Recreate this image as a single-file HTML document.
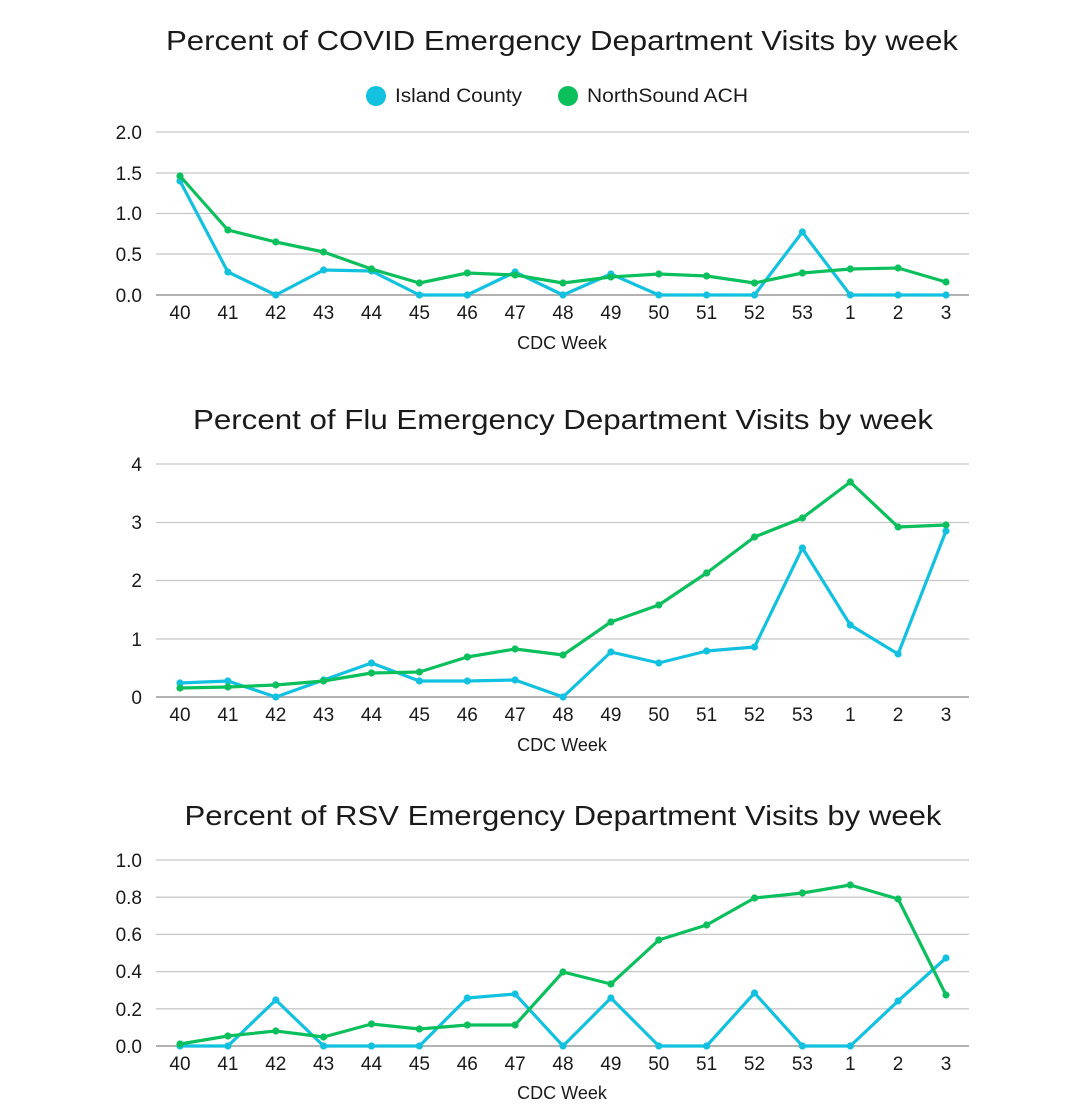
<!DOCTYPE html>
<html><head><meta charset="utf-8"><style>
html,body{margin:0;padding:0;background:#fff}
svg{display:block;font-family:"Liberation Sans",sans-serif}
.t{font-size:28px;fill:#1a1a1a;text-anchor:middle}
.tk{font-size:19px;fill:#1a1a1a}
.yl{text-anchor:end}
.xl{text-anchor:middle}
.al{font-size:18px;fill:#1a1a1a;text-anchor:middle}
.g{stroke:#c8c8c8;stroke-width:1.3}
.ax{stroke:#999;stroke-width:1.5}
.c{fill:none;stroke:#12C1DF;stroke-width:3.2;stroke-linejoin:round;marker-start:url(#mc);marker-mid:url(#mc);marker-end:url(#mc)}
.n{fill:none;stroke:#0BBF5D;stroke-width:3.2;stroke-linejoin:round;marker-start:url(#mn);marker-mid:url(#mn);marker-end:url(#mn)}
</style></head><body>
<svg width="1080" height="1114" viewBox="0 0 1080 1114">
<defs>
<marker id="mc" markerUnits="userSpaceOnUse" markerWidth="10" markerHeight="10" refX="5" refY="5"><circle cx="5" cy="5" r="3.6" fill="#12C1DF"/></marker>
<marker id="mn" markerUnits="userSpaceOnUse" markerWidth="10" markerHeight="10" refX="5" refY="5"><circle cx="5" cy="5" r="3.6" fill="#0BBF5D"/></marker>
</defs>

<!-- Chart 1 -->
<text class="t" x="562" y="50" textLength="792" lengthAdjust="spacingAndGlyphs">Percent of COVID Emergency Department Visits by week</text>
<circle cx="376" cy="96" r="10" fill="#12C1DF"/><text class="tk" x="395" y="102" textLength="127" lengthAdjust="spacingAndGlyphs">Island County</text>
<circle cx="568" cy="96" r="10" fill="#0BBF5D"/><text class="tk" x="587" y="102" textLength="161" lengthAdjust="spacingAndGlyphs">NorthSound ACH</text>
<g>
<line class="g" x1="156" x2="969" y1="132" y2="132"/><line class="g" x1="156" x2="969" y1="173" y2="173"/><line class="g" x1="156" x2="969" y1="213.5" y2="213.5"/><line class="g" x1="156" x2="969" y1="254" y2="254"/><line class="ax" x1="156" x2="969" y1="295" y2="295"/>
<text class="tk yl" x="142" y="139">2.0</text><text class="tk yl" x="142" y="180">1.5</text><text class="tk yl" x="142" y="220">1.0</text><text class="tk yl" x="142" y="261">0.5</text><text class="tk yl" x="142" y="302">0.0</text>
</g>
<g class="tk xl" transform="translate(0,319)">
<text x="180">40</text><text x="227.9">41</text><text x="275.8">42</text><text x="323.6">43</text><text x="371.5">44</text><text x="419.4">45</text><text x="467.3">46</text><text x="515.1">47</text><text x="563">48</text><text x="610.9">49</text><text x="658.8">50</text><text x="706.6">51</text><text x="754.5">52</text><text x="802.4">53</text><text x="850.3">1</text><text x="898.1">2</text><text x="946">3</text>
</g>
<text class="al" x="562" y="349">CDC Week</text>
<polyline class="c" points="180,181 227.9,272 275.8,295 323.6,270 371.5,271 419.4,295 467.3,295 515.1,272 563,295 610.9,274 658.8,295 706.6,295 754.5,295 802.4,232 850.3,295 898.1,295 946,295"/>
<polyline class="n" points="180,176 227.9,230 275.8,242 323.6,252 371.5,269 419.4,283 467.3,273 515.1,275 563,283 610.9,277 658.8,274 706.6,276 754.5,283 802.4,273 850.3,269 898.1,268 946,282"/>

<!-- Chart 2 -->
<text class="t" x="563" y="429" textLength="740" lengthAdjust="spacingAndGlyphs">Percent of Flu Emergency Department Visits by week</text>
<g>
<line class="g" x1="156" x2="969" y1="464" y2="464"/><line class="g" x1="156" x2="969" y1="522.5" y2="522.5"/><line class="g" x1="156" x2="969" y1="580.5" y2="580.5"/><line class="g" x1="156" x2="969" y1="639" y2="639"/><line class="ax" x1="156" x2="969" y1="697" y2="697"/>
<text class="tk yl" x="142" y="471">4</text><text class="tk yl" x="142" y="529">3</text><text class="tk yl" x="142" y="587">2</text><text class="tk yl" x="142" y="646">1</text><text class="tk yl" x="142" y="704">0</text>
</g>
<g class="tk xl" transform="translate(0,721)">
<text x="180">40</text><text x="227.9">41</text><text x="275.8">42</text><text x="323.6">43</text><text x="371.5">44</text><text x="419.4">45</text><text x="467.3">46</text><text x="515.1">47</text><text x="563">48</text><text x="610.9">49</text><text x="658.8">50</text><text x="706.6">51</text><text x="754.5">52</text><text x="802.4">53</text><text x="850.3">1</text><text x="898.1">2</text><text x="946">3</text>
</g>
<text class="al" x="562" y="751">CDC Week</text>
<polyline class="c" points="180,683 227.9,681 275.8,697 323.6,680 371.5,663 419.4,681 467.3,681 515.1,680 563,697 610.9,652 658.8,663 706.6,651 754.5,647 802.4,548 850.3,625 898.1,654 946,531"/>
<polyline class="n" points="180,688 227.9,687 275.8,685 323.6,681 371.5,673 419.4,672 467.3,657 515.1,649 563,655 610.9,622 658.8,605 706.6,573 754.5,537 802.4,518 850.3,482 898.1,527 946,525"/>

<!-- Chart 3 -->
<text class="t" x="563" y="825" textLength="757" lengthAdjust="spacingAndGlyphs">Percent of RSV Emergency Department Visits by week</text>
<g>
<line class="g" x1="156" x2="969" y1="860" y2="860"/><line class="g" x1="156" x2="969" y1="897.2" y2="897.2"/><line class="g" x1="156" x2="969" y1="934.4" y2="934.4"/><line class="g" x1="156" x2="969" y1="971.6" y2="971.6"/><line class="g" x1="156" x2="969" y1="1008.8" y2="1008.8"/><line class="ax" x1="156" x2="969" y1="1046" y2="1046"/>
<text class="tk yl" x="142" y="867">1.0</text><text class="tk yl" x="142" y="904">0.8</text><text class="tk yl" x="142" y="941">0.6</text><text class="tk yl" x="142" y="978">0.4</text><text class="tk yl" x="142" y="1016">0.2</text><text class="tk yl" x="142" y="1053">0.0</text>
</g>
<g class="tk xl" transform="translate(0,1070)">
<text x="180">40</text><text x="227.9">41</text><text x="275.8">42</text><text x="323.6">43</text><text x="371.5">44</text><text x="419.4">45</text><text x="467.3">46</text><text x="515.1">47</text><text x="563">48</text><text x="610.9">49</text><text x="658.8">50</text><text x="706.6">51</text><text x="754.5">52</text><text x="802.4">53</text><text x="850.3">1</text><text x="898.1">2</text><text x="946">3</text>
</g>
<text class="al" x="562" y="1099">CDC Week</text>
<polyline class="c" points="180,1046 227.9,1046 275.8,1000 323.6,1046 371.5,1046 419.4,1046 467.3,998 515.1,994 563,1046 610.9,998 658.8,1046 706.6,1046 754.5,993 802.4,1046 850.3,1046 898.1,1001 946,958"/>
<polyline class="n" points="180,1044 227.9,1036 275.8,1031 323.6,1037 371.5,1024 419.4,1029 467.3,1025 515.1,1025 563,972 610.9,984 658.8,940 706.6,925 754.5,898 802.4,893 850.3,885 898.1,899 946,995"/>
</svg>
</body></html>
